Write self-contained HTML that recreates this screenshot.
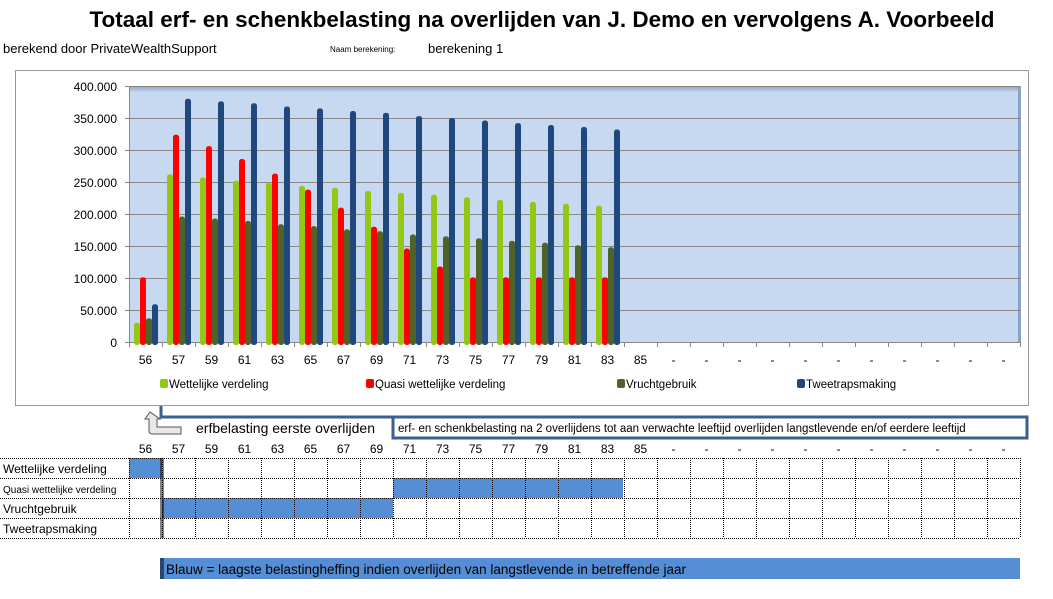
<!DOCTYPE html>
<html><head><meta charset="utf-8"><style>
body{margin:0;background:#fff;}
svg{display:block;font-family:"Liberation Sans",sans-serif;}
</style></head><body>
<svg id="s" width="1053" height="599" xmlns="http://www.w3.org/2000/svg">
<defs>
<linearGradient id="pg" x1="0" y1="0" x2="0" y2="1"><stop offset="0" stop-color="#8aa3c4"/><stop offset="0.025" stop-color="#c6d9f1"/><stop offset="1" stop-color="#c6d9f1"/></linearGradient>
</defs>
<text x="542" y="27" font-size="22" font-weight="bold" text-anchor="middle" textLength="905" lengthAdjust="spacingAndGlyphs">Totaal erf- en schenkbelasting na overlijden van J. Demo en vervolgens A. Voorbeeld</text>
<text x="3" y="53" font-size="13">berekend door PrivateWealthSupport</text>
<text x="330" y="52" font-size="8">Naam berekening:</text>
<text x="428" y="53" font-size="13">berekening 1</text>
<rect x="15.5" y="70.5" width="1013" height="335" fill="#fff" stroke="#999"/>
<rect x="129" y="86" width="891" height="256" fill="url(#pg)"/>
<rect x="1018" y="86" width="3" height="256" fill="#8aa3c4"/>
<g stroke="#888" stroke-width="1">
<line x1="125" y1="86.5" x2="1020" y2="86.5"/><line x1="125" y1="118.5" x2="1020" y2="118.5"/><line x1="125" y1="150.5" x2="1020" y2="150.5"/><line x1="125" y1="182.5" x2="1020" y2="182.5"/><line x1="125" y1="214.5" x2="1020" y2="214.5"/><line x1="125" y1="246.5" x2="1020" y2="246.5"/><line x1="125" y1="278.5" x2="1020" y2="278.5"/><line x1="125" y1="310.5" x2="1020" y2="310.5"/><line x1="125" y1="342.5" x2="1020" y2="342.5"/>
<line x1="129.5" y1="86" x2="129.5" y2="342"/>
</g>
<g id="bars"></g><g id="ticks" stroke="#888"></g>
<g font-size="12" text-anchor="end">
<text x="117" y="91">400.000</text><text x="117" y="123">350.000</text><text x="117" y="155">300.000</text><text x="117" y="187">250.000</text><text x="117" y="219">200.000</text><text x="117" y="251">150.000</text><text x="117" y="283">100.000</text><text x="117" y="315">50.000</text><text x="117" y="347">0</text>
</g>
<g font-size="12" text-anchor="middle">
<text x="145.5" y="364">56</text><text x="178.5" y="364">57</text><text x="211.5" y="364">59</text><text x="244.5" y="364">61</text><text x="277.5" y="364">63</text><text x="310.5" y="364">65</text><text x="343.5" y="364">67</text><text x="376.5" y="364">69</text><text x="409.5" y="364">71</text><text x="442.5" y="364">73</text><text x="475.5" y="364">75</text><text x="508.5" y="364">77</text><text x="541.5" y="364">79</text><text x="574.5" y="364">81</text><text x="607.5" y="364">83</text><text x="640.5" y="364">85</text>
<text x="673.5" y="364">-</text><text x="706.5" y="364">-</text><text x="739.5" y="364">-</text><text x="772.5" y="364">-</text><text x="805.5" y="364">-</text><text x="838.5" y="364">-</text><text x="871.5" y="364">-</text><text x="904.5" y="364">-</text><text x="937.5" y="364">-</text><text x="970.5" y="364">-</text><text x="1003.5" y="364">-</text>
</g>
<g font-size="11.5">
<rect x="160" y="379" width="8" height="9" rx="2" fill="#92c814"/><text x="169" y="388">Wettelijke verdeling</text>
<rect x="366" y="379" width="8" height="9" rx="2" fill="#ff0000"/><text x="375" y="388">Quasi wettelijke verdeling</text>
<rect x="617" y="379" width="8" height="9" rx="2" fill="#4f6228"/><text x="626" y="388">Vruchtgebruik</text>
<rect x="797" y="379" width="8" height="9" rx="2" fill="#1f497d"/><text x="806" y="388">Tweetrapsmaking</text>
</g>
<path d="M161 406 V417 H393" fill="none" stroke="#3b5f8e" stroke-width="3"/>
<rect x="393" y="417" width="634" height="21" fill="#fff" stroke="#3b5f8e" stroke-width="3"/>
<text x="398" y="432" font-size="11.5">erf- en schenkbelasting na 2 overlijdens tot aan verwachte leeftijd overlijden langstlevende en/of eerdere leeftijd</text>
<text x="196" y="433" font-size="14">erfbelasting eerste overlijden</text>
<path d="M150 412 L145 419 H149 V431 Q149 434 153 434 H181 V427 H157 V419 H160 Z" fill="#e8e8e8" stroke="#555"/>
<rect x="129" y="458" width="33" height="20" fill="#558ed5"/>
<rect x="393" y="478" width="230" height="20" fill="#558ed5"/>
<rect x="162" y="498" width="231" height="20" fill="#558ed5"/>
<g id="grid" stroke="#000" stroke-dasharray="1,1" stroke-width="1"></g>
<line x1="161" y1="458" x2="161" y2="538" stroke="#000"/><line x1="163" y1="458" x2="163" y2="538" stroke="#000"/>
<g font-size="12" text-anchor="middle">
<text x="145.5" y="453">56</text><text x="178.5" y="453">57</text><text x="211.5" y="453">59</text><text x="244.5" y="453">61</text><text x="277.5" y="453">63</text><text x="310.5" y="453">65</text><text x="343.5" y="453">67</text><text x="376.5" y="453">69</text><text x="409.5" y="453">71</text><text x="442.5" y="453">73</text><text x="475.5" y="453">75</text><text x="508.5" y="453">77</text><text x="541.5" y="453">79</text><text x="574.5" y="453">81</text><text x="607.5" y="453">83</text><text x="640.5" y="453">85</text>
<text x="673.5" y="453">-</text><text x="706.5" y="453">-</text><text x="739.5" y="453">-</text><text x="772.5" y="453">-</text><text x="805.5" y="453">-</text><text x="838.5" y="453">-</text><text x="871.5" y="453">-</text><text x="904.5" y="453">-</text><text x="937.5" y="453">-</text><text x="970.5" y="453">-</text><text x="1003.5" y="453">-</text>
</g>
<text x="3" y="473" font-size="12">Wettelijke verdeling</text>
<text x="3" y="493" font-size="10">Quasi wettelijke verdeling</text>
<text x="3" y="513" font-size="12">Vruchtgebruik</text>
<text x="3" y="533" font-size="12">Tweetrapsmaking</text>
<rect x="160" y="558" width="860" height="21" fill="#558ed5"/>
<line x1="161" y1="558" x2="161" y2="579" stroke="#000"/><line x1="163" y1="558" x2="163" y2="579" stroke="#000"/>
<text x="166" y="574" font-size="13.5">Blauw = laagste belastingheffing indien overlijden van langstlevende in betreffende jaar</text>
</svg>
<script>
var NS="http://www.w3.org/2000/svg";
var d=[[30,262,257,252,249,244,241,236,233,230,226,222,219,216,213],
[101,324,306,286,263,238,210,180,146,118,101,101,101,101,101],
[37,196,193,189,184,181,176,173,168,165,162,158,155,151,148],
[59,380,376,373,368,365,361,358,353,350,346,342,339,336,332]];
var c=["#92c814","#ff0000","#4f6228","#1f497d"];
var b=document.getElementById("bars");
for(var i=0;i<15;i++)for(var k=0;k<4;k++){var h=d[k][i]*0.64;var r=document.createElementNS(NS,"rect");
r.setAttribute("x",129+33*i+5+6*k);r.setAttribute("y",342-h);r.setAttribute("width",6);r.setAttribute("height",h+3);r.setAttribute("rx",2.5);r.setAttribute("fill",c[k]);b.appendChild(r);}
var t=document.getElementById("ticks");
for(var i=0;i<=27;i++){var l=document.createElementNS(NS,"line");var x=129.5+33*i;l.setAttribute("x1",x);l.setAttribute("x2",x);l.setAttribute("y1",342);l.setAttribute("y2",347);t.appendChild(l);}
var g=document.getElementById("grid");
function L(a,b2,c2,e){var l=document.createElementNS(NS,"line");l.setAttribute("x1",a);l.setAttribute("y1",b2);l.setAttribute("x2",c2);l.setAttribute("y2",e);g.appendChild(l);}
for(var j=0;j<5;j++)L(0,458.5+20*j,1020,458.5+20*j);
for(var i=0;i<=27;i++){var x=129.5+33*i;L(x,458,x,538);}
</script>
</body></html>
